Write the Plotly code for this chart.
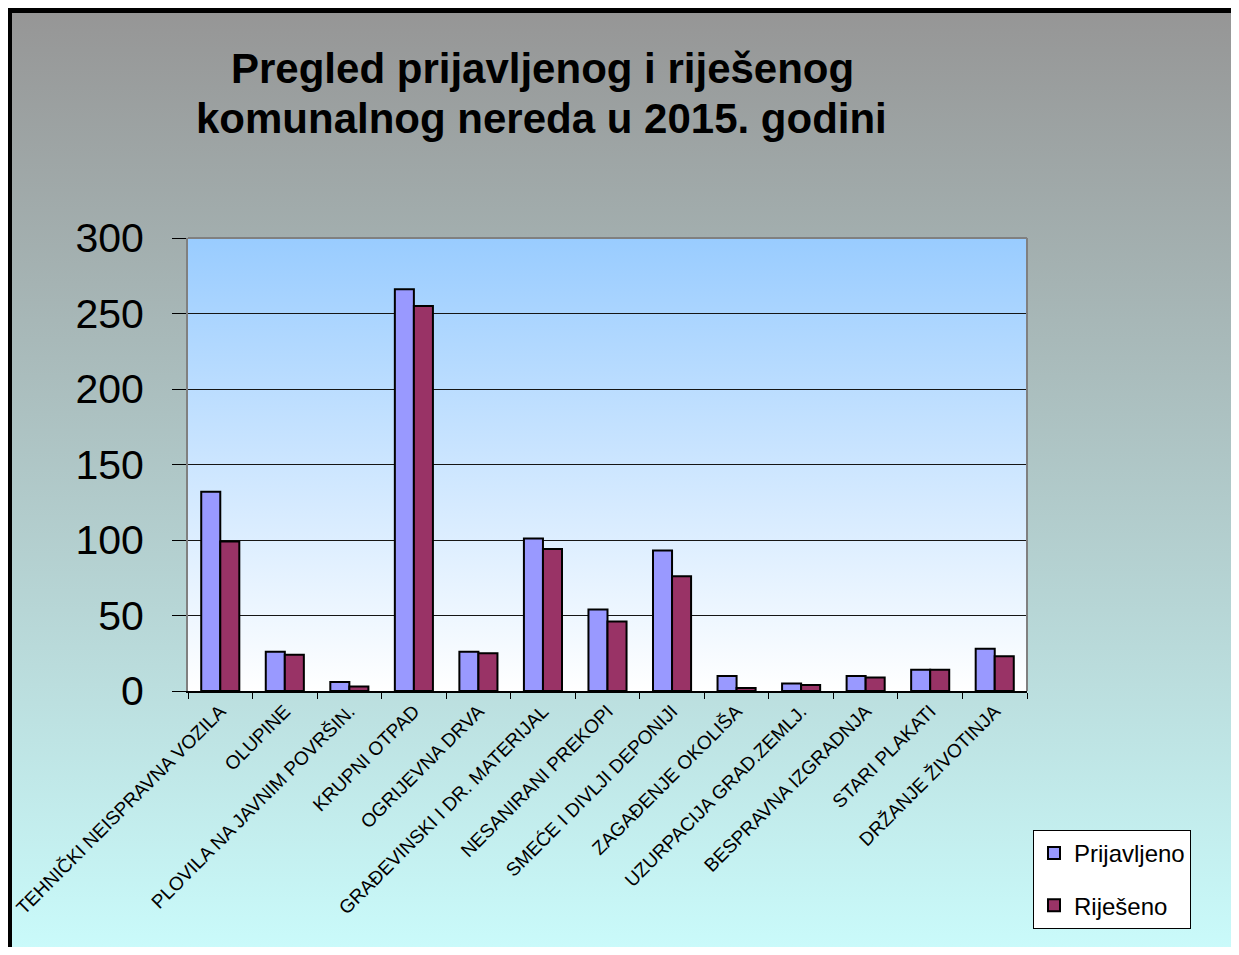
import base64
import plotly.graph_objects as go

# figure size leaves room for the 8px default body margin of the page
W, H = 1223, 939
OFF = 8

categories = [
    "TEHNIČKI NEISPRAVNA VOZILA", "OLUPINE", "PLOVILA NA JAVNIM POVRŠIN.",
    "KRUPNI OTPAD", "OGRIJEVNA DRVA", "GRAĐEVINSKI I DR. MATERIJAL",
    "NESANIRANI PREKOPI", "SMEĆE I DIVLJI DEPONIJI", "ZAGAĐENJE OKOLIŠA",
    "UZURPACIJA GRAD.ZEMLJ.", "BESPRAVNA IZGRADNJA", "STARI PLAKATI",
    "DRŽANJE ŽIVOTINJA",
]
prijavljeno = [132, 26, 6, 266, 26, 101, 54, 93, 10, 5, 10, 14, 28]
rijeseno = [99, 24, 3, 255, 25, 94, 46, 76, 2, 4, 9, 14, 23]
y_ticks = [0, 50, 100, 150, 200, 250, 300]
title_lines = ["Pregled prijavljenog i riješenog", "komunalnog nereda u 2015. godini"]


def grad(c1, c2):
    svg = ('<svg xmlns="http://www.w3.org/2000/svg" width="100" height="100" '
           'preserveAspectRatio="none"><defs><linearGradient id="g" x1="0" y1="0" '
           'x2="0" y2="1"><stop offset="0" stop-color="%s"/><stop offset="1" '
           'stop-color="%s"/></linearGradient></defs><rect width="100" height="100" '
           'fill="url(#g)"/></svg>') % (c1, c2)
    return "data:image/svg+xml;base64," + base64.b64encode(svg.encode()).decode()


def px(x):
    return (x - OFF) / W


def py(y):
    return 1 - (y - OFF) / H


PL, PR, PT, PB = 188, 1027, 238, 691

fig = go.Figure()
fig.add_trace(go.Bar(x=categories, y=prijavljeno, name="Prijavljeno",
                     marker=dict(color="#9999FF", line=dict(color="black", width=2)),
                     legendgroup="a"))
fig.add_trace(go.Bar(x=categories, y=rijeseno, name="Riješeno",
                     marker=dict(color="#993366", line=dict(color="black", width=2)),
                     legendgroup="b"))

fig.update_layout(
    width=W, height=H,
    margin=dict(l=0, r=0, t=0, b=0, autoexpand=False),
    paper_bgcolor="white",
    plot_bgcolor="rgba(0,0,0,0)",
    barmode="group", bargap=0.41, bargroupgap=0,
    font=dict(family="Liberation Sans, Arial", color="black"),
    xaxis=dict(domain=[px(PL), px(PR)], tickangle=-45, tickson="boundaries",
               ticks="outside", ticklen=6, tickcolor="black", automargin=False,
               showline=True, linecolor="black", linewidth=1.5,
               tickfont=dict(size=19), showgrid=False, mirror=False),
    yaxis=dict(domain=[py(PB), py(PT)], range=[0, 300], tickvals=y_ticks,
               ticks="outside", ticklen=14, tickcolor="black", automargin=False,
               ticklabelstandoff=20,
               showline=True, linecolor="#808080", linewidth=2,
               gridcolor="#151515", gridwidth=1,
               tickfont=dict(size=41), zeroline=False),
    legend=dict(x=px(1033), y=py(830), xanchor="left", yanchor="top",
                bgcolor="white", bordercolor="black", borderwidth=1,
                font=dict(size=24), traceorder="grouped", tracegroupgap=18,
                itemwidth=30),
    images=[
        dict(source=grad("#969696", "#CCFFFF"), xref="paper", yref="paper",
             x=px(12), y=py(13), sizex=(W + 40) / W, sizey=(H + 40) / H,
             xanchor="left", yanchor="top", sizing="stretch", layer="below"),
        dict(source=grad("#99CCFF", "#FFFFFF"), xref="paper", yref="paper",
             x=px(PL), y=py(PT), sizex=(PR - PL) / W, sizey=(PB - PT) / H,
             xanchor="left", yanchor="top", sizing="stretch", layer="below"),
    ],
    shapes=[
        dict(type="rect", xref="paper", yref="paper", x0=px(9.5), y0=py(10.5),
             x1=px(W + 60), y1=py(H + 60), line=dict(color="black", width=5),
             layer="above"),
        dict(type="line", xref="paper", yref="paper", x0=px(PL), y0=py(PT),
             x1=px(PR), y1=py(PT), line=dict(color="#808080", width=2)),
        dict(type="line", xref="paper", yref="paper", x0=px(PR), y0=py(PT),
             x1=px(PR), y1=py(PB), line=dict(color="#808080", width=2)),
    ],
    annotations=[
        dict(text="<b>%s</b>" % title_lines[0], xref="paper", yref="paper",
             x=px(542), y=py(69), xanchor="center", yanchor="middle",
             showarrow=False, font=dict(size=42, color="black")),
        dict(text="<b>%s</b>" % title_lines[1], xref="paper", yref="paper",
             x=px(541), y=py(119), xanchor="center", yanchor="middle",
             showarrow=False, font=dict(size=42, color="black")),
    ],
)

fig.write_html("out.html")
